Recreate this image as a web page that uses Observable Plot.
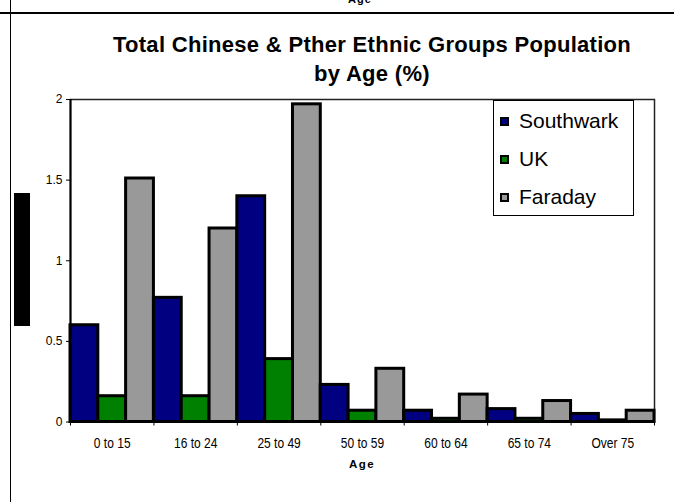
<!DOCTYPE html>
<html>
<head>
<meta charset="utf-8">
<script src="https://cdn.jsdelivr.net/npm/d3@7"></script>
<script src="https://cdn.jsdelivr.net/npm/@observablehq/plot@0.6"></script>
<style>
  html, body { margin: 0; padding: 0; background: #fff; }
  #page { position: relative; width: 674px; height: 502px; overflow: hidden; background: #fff;
          font-family: "Liberation Sans", Arial, sans-serif; color: #000; }
  #chart { position: absolute; left: 0; top: 0; }
  .abs { position: absolute; white-space: nowrap; }
  .title { font-weight: bold; font-size: 22px; letter-spacing: 0.3px; line-height: 24px; text-align: center; width: 600px; left: 72px; }
  #legend { position: absolute; left: 493px; top: 100px; width: 139px; height: 114px;
            border: 1px solid #000; background: #fff; }
  .item { position: absolute; left: 6px; height: 24px; line-height: 24px; font-size: 21px;
          display: flex; align-items: center; }
  .swatch { width: 5px; height: 5px; border: 2px solid #000; margin-right: 10px; }
  #ylabel { position: absolute; left: 14px; top: 193px; width: 16px; height: 133px; background: #000;
            color: #000; font-size: 12px; font-weight: bold; writing-mode: vertical-rl;
            transform: rotate(180deg); overflow: hidden; text-align: center; }
  .hline { position: absolute; background: #000; }
</style>
</head>
<body>
<div id="page">
  <div class="abs" style="left:348px; top:-7px; font-size:11px; font-weight:bold; letter-spacing:1px;">Age</div>
  <div class="hline" style="left:0; top:12px; width:674px; height:1.5px;"></div>
  <div class="hline" style="left:9.5px; top:0; width:1.5px; height:502px;"></div>
  <div id="chart"></div>
  <div class="abs title" style="top:33px;">Total Chinese &amp; Pther Ethnic Groups Population</div>
  <div class="abs title" style="top:62px;">by Age (%)</div>
  <div id="ylabel">Percentage</div>
  <div class="abs" style="left:362px; top:458px; transform:translateX(-50%); font-size:11.5px; font-weight:bold; letter-spacing:1.5px;">Age</div>
  <div id="legend"></div>
</div>
<script>
// Age bands and share of population (%) for each area
const ages = ["0 to 15", "16 to 24", "25 to 49", "50 to 59", "60 to 64", "65 to 74", "Over 75"];
const series = ["Southwark", "UK", "Faraday"];
const southwark = [0.60, 0.77, 1.40, 0.23, 0.07, 0.08, 0.05];
const uk = [0.16, 0.16, 0.39, 0.07, 0.02, 0.02, 0.01];
const faraday = [1.51, 1.20, 1.97, 0.33, 0.17, 0.13, 0.07];
const colors = ["#000080", "#008000", "#999999"];
const yTicks = [0, 0.5, 1, 1.5, 2];

const values = [southwark, uk, faraday];
// one row per bar: age band index i, series index j
const rows = ages.flatMap((age, i) =>
  series.map((s, j) => ({ age, i, j, series: s, value: values[j][i] }))
);

const chart = Plot.plot({
  width: 674,
  height: 502,
  marginLeft: 70,
  marginRight: 20,
  marginTop: 99,
  marginBottom: 80.5,
  style: { fontFamily: "'Liberation Sans', Arial, sans-serif", background: "transparent", color: "#000", overflow: "visible" },
  x: { domain: [0, ages.length] },
  y: { domain: [0, 2] },
  color: { domain: series, range: colors },
  marks: [
    Plot.frame({ stroke: "#222", strokeWidth: 1.5 }),
    // bars fill each age band with no gaps between series
    Plot.rectY(rows, {
      x1: d => d.i + d.j / series.length,
      x2: d => d.i + (d.j + 1) / series.length,
      y1: 0,
      y2: "value",
      fill: "series",
      stroke: "#000",
      strokeWidth: 3
    }),
    Plot.ruleX([0], { stroke: "#000", strokeWidth: 2 }),
    Plot.ruleY([0], { stroke: "#000", strokeWidth: 2 }),
    Plot.axisY({ ticks: yTicks, tickSize: 4, tickPadding: 4, tickFormat: d => String(d), label: null }),
    // boundary ticks between age bands
    Plot.axisX({ ticks: d3.range(ages.length + 1), tickSize: 4, tickFormat: () => "", label: null }),
    // age band labels centred in each band
    Plot.axisX({ ticks: ages.map((_, i) => i + 0.5), tickSize: 0, tickPadding: 15,
                 tickFormat: v => ages[Math.round(v - 0.5)], label: null })
  ]
});
document.getElementById("chart").appendChild(chart);

// tick label sizes; band labels are drawn tall and narrow
const svg = d3.select(chart);
svg.selectAll('g[aria-label="y-axis tick label"]').attr("font-size", 12).style("font-size", "12px");
svg.selectAll('g[aria-label="x-axis tick label"]').attr("font-size", 15).style("font-size", "15px");
svg.selectAll('g[aria-label="x-axis tick label"] text').each(function () {
  const t = this.getAttribute("transform") || "";
  this.setAttribute("transform", t + " scale(0.8,1)");
});

// legend
const legend = document.getElementById("legend");
const centres = [20, 58, 96];
series.forEach((s, k) => {
  const item = document.createElement("div");
  item.className = "item";
  item.style.top = (centres[k] - 12) + "px";
  const sw = document.createElement("span");
  sw.className = "swatch";
  sw.style.background = colors[k];
  item.appendChild(sw);
  item.appendChild(document.createTextNode(s));
  legend.appendChild(item);
});
</script>
</body>
</html>
